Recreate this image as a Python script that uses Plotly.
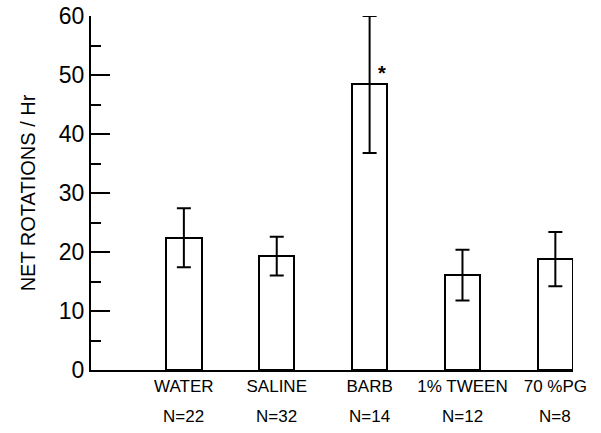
import plotly.graph_objects as go

categories = ["WATER", "SALINE", "BARB", "1% TWEEN", "70 %PG"]
n_labels = ["N=22", "N=32", "N=14", "N=12", "N=8"]
means = [22.4, 19.3, 48.4, 16.1, 18.8]
errors = [5.0, 3.3, 11.6, 4.3, 4.6]
significant = [False, False, True, False, False]
y_ticks = [0, 10, 20, 30, 40, 50, 60]

xpos = list(range(len(categories)))
label_font = dict(family="Liberation Sans", size=17, color="black")

fig = go.Figure()
fig.add_trace(go.Bar(
    x=xpos, y=means, width=0.38,
    marker=dict(color="white", line=dict(color="black", width=2)),
    error_y=dict(type="data", array=errors, visible=True, color="black",
                 thickness=2, width=7),
    showlegend=False, cliponaxis=False,
))

for i, sig in enumerate(significant):
    if sig:
        fig.add_annotation(x=xpos[i] + 0.13, y=means[i] + 2.0, text="<b>*</b>",
                           showarrow=False, font=dict(size=20, color="black",
                           family="Liberation Sans"), xanchor="center", yanchor="middle")

for i, n in enumerate(n_labels):
    fig.add_annotation(x=xpos[i], y=0, xref="x", yref="paper", text=n,
                       showarrow=False, font=label_font, yanchor="middle",
                       xanchor="center", yshift=-46)

fig.update_layout(
    width=601, height=433,
    margin=dict(l=91, r=28, t=16, b=63, autoexpand=False),
    plot_bgcolor="white", paper_bgcolor="white",
    font=dict(family="Liberation Sans", color="black"),
    bargap=0,
)
fig.update_xaxes(
    range=[-1.0, 4.19],
    tickmode="array", tickvals=xpos, ticktext=categories,
    ticks="", showline=True, linecolor="black", linewidth=2,
    showgrid=False, zeroline=False,
    tickfont=label_font,
)
fig.update_yaxes(
    range=[0, 60],
    tickmode="array", tickvals=y_ticks,
    ticks="inside", ticklen=19, tickwidth=2, tickcolor="black",
    minor=dict(ticks="inside", ticklen=10, tickwidth=2, tickcolor="black", dtick=5, tick0=0, showgrid=False),
    showline=True, linecolor="black", linewidth=2,
    showgrid=False, zeroline=False,
    ticklabeloverflow="allow",
    tickfont=dict(family="Liberation Sans", size=23, color="black"),
    title=dict(text="NET ROTATIONS / Hr", font=dict(family="Liberation Sans", size=20, color="black"), standoff=18),
)

fig.write_html("out.html", config={"displayModeBar": False},
               post_script="document.body.style.margin='0';")
